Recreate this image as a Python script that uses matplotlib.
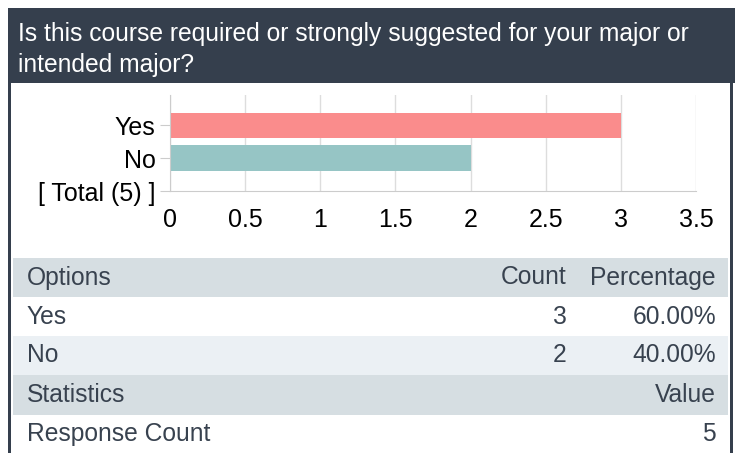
import matplotlib
matplotlib.use("Agg")
import matplotlib.pyplot as plt
from matplotlib.patches import Rectangle

# Survey question and answers
question_lines = ["Is this course required or strongly suggested for your major or",
                  "intended major?"]
options = ["Yes", "No"]
counts = [3, 2]
percentages = ["60.00%", "40.00%"]
total_label = "[ Total (5) ]"
response_count = 5

bar_colors = ["#fa8c8c", "#96c5c5"]
x_ticks = [0, 0.5, 1, 1.5, 2, 2.5, 3, 3.5]
x_tick_labels = ["0", "0.5", "1", "1.5", "2", "2.5", "3", "3.5"]

plt.rcParams["font.family"] = ["Liberation Sans", "DejaVu Sans"]

W, H = 735, 453
fig = plt.figure(figsize=(W / 100, H / 100), dpi=100)

# Background layer in pixel coordinates
bg = fig.add_axes([0, 0, 1, 1])
bg.set_xlim(0, W)
bg.set_ylim(H, 0)
bg.axis("off")

dark = "#353f4d"
text_col = "#38424f"
gray_row = "#d6dee2"
alt_row = "#ebf0f4"

# outer frame + header
bg.add_patch(Rectangle((8, 8), W - 8, 75, color=dark, lw=0))
bg.add_patch(Rectangle((8.5, 83), 2.5, H - 83, color=dark, lw=0))
bg.add_patch(Rectangle((730, 83), 3, H - 83, color=dark, lw=0))
bg.text(18, 34, question_lines[0], color="white", fontsize=17.7, va="center")
bg.text(18, 65, question_lines[1], color="white", fontsize=17.7, va="center")

# table rows
row_top = [258, 297, 336, 375, 415]
row_h = [39, 39, 39, 40, 38]
row_fill = [gray_row, "white", alt_row, gray_row, "white"]
for t, h, c in zip(row_top, row_h, row_fill):
    bg.add_patch(Rectangle((13, t), 715, h, color=c, lw=0))

rows = [("Options", "Count", "Percentage")]
for o, c, p in zip(options, counts, percentages):
    rows.append((o, str(c), p))
rows.append(("Statistics", "", "Value"))
rows.append(("Response Count", "", str(response_count)))
for (a, b, c), t, h in zip(rows, row_top, row_h):
    yc = t + h / 2
    bg.text(27, yc, a, color=text_col, fontsize=17.7, va="center", ha="left")
    if b:
        bg.text(567, yc, b, color=text_col, fontsize=17.7, va="center", ha="right")
    bg.text(716, yc, c, color=text_col, fontsize=17.7, va="center", ha="right")

# bar chart
ax = fig.add_axes([170 / W, (H - 191) / H, (696 - 170) / W, (191 - 95) / H])
ypos = [2, 1]
ax.barh(ypos, counts, height=0.78, color=bar_colors, zorder=2)
ax.set_xlim(0, 3.5)
ax.set_ylim(0, 2.93)
ax.set_yticks([2, 1, 0])
ax.set_yticklabels(options + [total_label])
ax.set_xticks(x_ticks)
ax.set_xticklabels(x_tick_labels)
ax.grid(axis="x", color="#dddddd", lw=1, zorder=0)
ax.tick_params(axis="y", length=7, color="#cccccc", pad=3.5, labelsize=18)
ax.tick_params(axis="x", length=0, pad=12, labelsize=18)
for s in ["top", "right"]:
    ax.spines[s].set_visible(False)
for s in ["left", "bottom"]:
    ax.spines[s].set_color("#cccccc")
ax.patch.set_alpha(0)

fig.savefig("out.png", dpi=100)
